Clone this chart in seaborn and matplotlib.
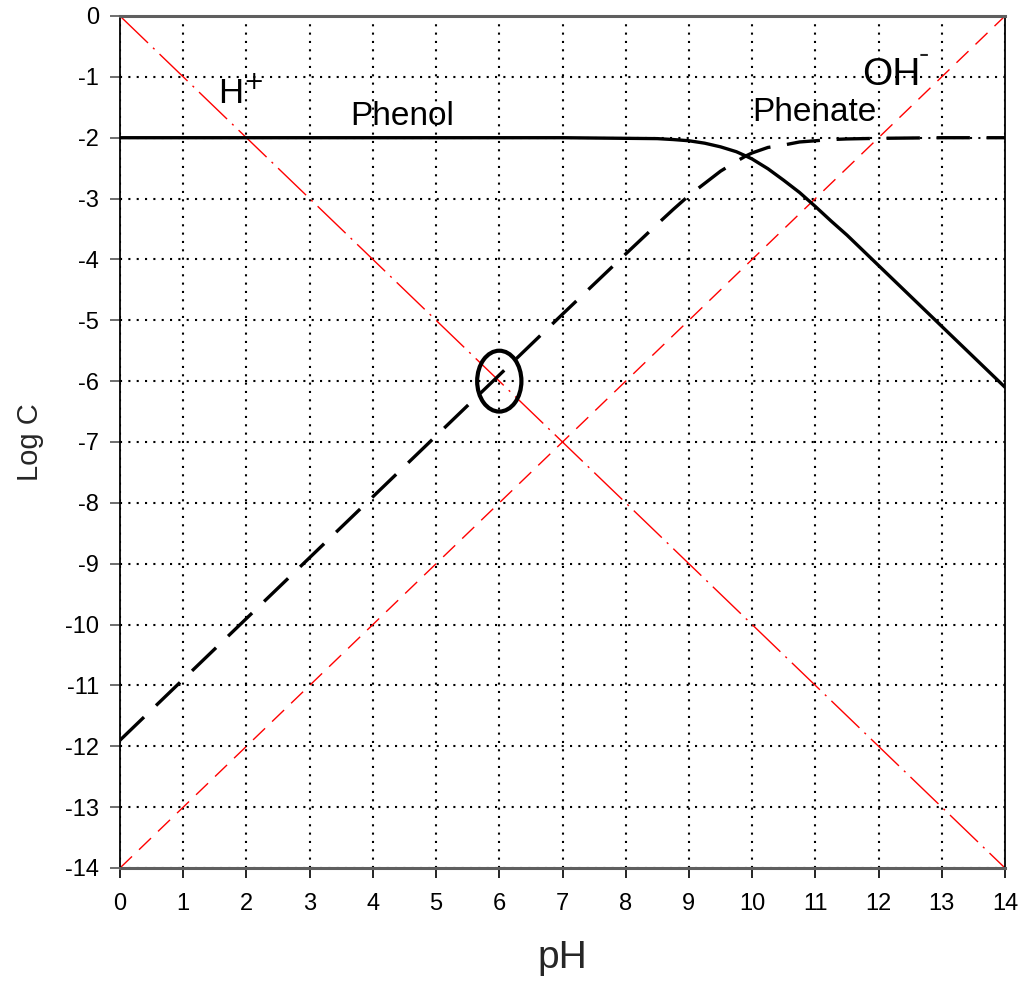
import matplotlib
matplotlib.use("Agg")
import matplotlib.pyplot as plt
import seaborn as sns
import pandas as pd
from matplotlib.patches import Ellipse

# Data
ph_phenol = [0, 2, 4, 6, 7, 8, 8.5, 8.75, 9, 9.25, 9.5, 9.75, 9.9, 10, 10.25, 10.5, 10.75, 11, 11.25, 11.5, 12, 12.5, 13, 13.5, 14]
logc_phenol = [-2, -2, -2, -2, -2, -2.01, -2.015, -2.03, -2.05, -2.09, -2.15, -2.23, -2.30, -2.35, -2.51, -2.70, -2.90, -3.13, -3.37, -3.60, -4.10, -4.60, -5.10, -5.60, -6.10]

ph_phenate = [0, 1, 2, 3, 4, 5, 6, 7, 8, 8.5, 8.75, 9, 9.25, 9.5, 9.75, 9.9, 10, 10.25, 10.5, 10.75, 11, 11.25, 11.5, 12, 13, 14]
logc_phenate = [-11.9, -10.9, -9.9, -8.9, -7.9, -6.9, -5.9, -4.9, -3.91, -3.42, -3.18, -2.95, -2.75, -2.55, -2.39, -2.30, -2.25, -2.16, -2.12, -2.07, -2.05, -2.03, -2.02, -2.01, -2.0, -2.0]

ph_h = [0, 14]
logc_h = [0, -14]
ph_oh = [0, 14]
logc_oh = [-14, 0]

xticks = list(range(0, 15))
yticks = list(range(0, -15, -1))

labels = [("H$^{+}$", 1.55, -1.43, 25), ("Phenol", 3.64, -1.79, 24),
          ("Phenate", 10.0, -1.72, 24), ("OH", 11.74, -1.13, 28)]
oh_sup = "-"
circle_center = (6, -6)

sns.set_theme(style="white")
plt.rcParams['font.family'] = ['Liberation Sans', 'DejaVu Sans']
plt.rcParams['axes.unicode_minus'] = False

fig = plt.figure(figsize=(10.23, 9.82), dpi=100)
ax = fig.add_axes([120/1023, 1-868/982, 885/1023, 852/982])

df_phenol = pd.DataFrame({"pH": ph_phenol, "logC": logc_phenol})
df_phenate = pd.DataFrame({"pH": ph_phenate, "logC": logc_phenate})
df_h = pd.DataFrame({"pH": ph_h, "logC": logc_h})
df_oh = pd.DataFrame({"pH": ph_oh, "logC": logc_oh})

sns.lineplot(data=df_h, x="pH", y="logC", ax=ax, color="red", lw=1.0, sort=False)
ax.lines[-1].set_dashes([28, 5, 1.5, 5])
sns.lineplot(data=df_oh, x="pH", y="logC", ax=ax, color="red", lw=1.0, sort=False)
ax.lines[-1].set_dashes([12, 7])
sns.lineplot(data=df_phenol, x="pH", y="logC", ax=ax, color="black", lw=2.4, sort=False)
sns.lineplot(data=df_phenate, x="pH", y="logC", ax=ax, color="black", lw=2.4, sort=False)
ax.lines[-1].set_dashes([10, 5])

ax.add_patch(Ellipse(circle_center, 0.7, 1.0, fill=False, ec="black", lw=3.0, zorder=5))

for txt, x, y, fs in labels:
    ax.text(x, y, txt, fontsize=fs, ha="left", va="baseline", color="black")
# superscript hyphen after "OH"
ax.annotate(oh_sup, xy=(labels[3][1], labels[3][2]), xytext=(41, 16),
            textcoords="offset points", fontsize=22, ha="left", va="baseline")

ax.set_xlim(0, 14)
ax.set_ylim(-14, 0)
ax.set_xticks(xticks)
ax.set_yticks(yticks)
ax.tick_params(axis="both", labelsize=17, direction="out", length=7, width=1.2, bottom=True, left=True)
ax.tick_params(axis="y", colors="#555555", labelcolor="black", pad=8)
ax.tick_params(axis="x", colors="black", labelcolor="black", pad=11)
ax.grid(True, color="black", linestyle=(0, (1, 3)), lw=1.5)
for s in ["left", "right"]:
    ax.spines[s].set_color("black")
    ax.spines[s].set_linewidth(1.3)
for s in ["top", "bottom"]:
    ax.spines[s].set_color("#5f5f5f")
    ax.spines[s].set_linewidth(2.2)
ax.set_xlabel("pH", fontsize=28, labelpad=18)
ax.set_ylabel("Log C", fontsize=21, labelpad=15)

fig.savefig("out.png", dpi=100)
